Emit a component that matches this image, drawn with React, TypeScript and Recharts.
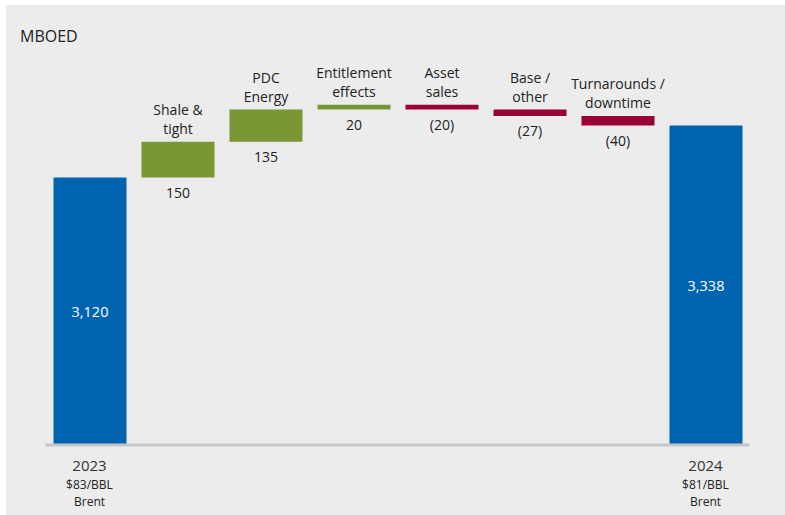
import React from 'react';
import { BarChart, Bar, XAxis, YAxis, Cell, LabelList } from 'recharts';

const unitLabel = 'MBOED';
const categories = ['2023', 'Shale & tight', 'PDC Energy', 'Entitlement effects', 'Asset sales', 'Base / other', 'Turnarounds / downtime', '2024'];
const topLabelLines: string[][] = [[], ['Shale &', 'tight'], ['PDC', 'Energy'], ['Entitlement', 'effects'], ['Asset', 'sales'], ['Base /', 'other'], ['Turnarounds /', 'downtime'], []];
const startTotal = 3120;
const endTotal = 3338;
const changes = [150, 135, 20, -20, -27, -40];
const baseTickLines: string[][] = [['2023', '$83/BBL', 'Brent'], [], [], [], [], [], [], ['2024', '$81/BBL', 'Brent']];
const axisMin = 2000;
const axisMax = 3650;

const BLUE = '#0064B0';
const GREEN = '#7A9634';
const RED = '#9A0033';
const FONT = '"Open Sans", sans-serif';

type Row = { name: string; range: [number, number]; kind: 'total' | 'up' | 'down'; delta: number; total: number };

const rows: Row[] = [];
rows.push({ name: categories[0], range: [axisMin, startTotal], kind: 'total', delta: 0, total: startTotal });
let run = startTotal;
changes.forEach((c, i) => {
  const lo = Math.min(run, run + c);
  const hi = Math.max(run, run + c);
  rows.push({ name: categories[i + 1], range: [lo, hi], kind: c >= 0 ? 'up' : 'down', delta: c, total: 0 });
  run += c;
});
rows.push({ name: categories[7], range: [axisMin, endTotal], kind: 'total', delta: 0, total: endTotal });

const fmt = (v: number) => v.toLocaleString('en-US');
const fmtDelta = (v: number) => (v < 0 ? `(${Math.abs(v)})` : `${v}`);

const renderLabel = (props: any) => {
  const { x, y, width, height, index } = props;
  const row = rows[index];
  if (!row) return null;
  const top = Math.min(y, y + height);
  const bottom = Math.max(y, y + height);
  const cx = x + width / 2;
  if (row.kind === 'total') {
    return (
      <text x={cx} y={(top + bottom) / 2} textAnchor="middle" dominantBaseline="central" fill="#ffffff" fontSize={14.5} fontFamily={FONT}>
        {fmt(row.total)}
      </text>
    );
  }
  const lines = topLabelLines[index];
  return (
    <g>
      {lines.map((l, i) => (
        <text key={i} x={cx} y={top - 13 - (lines.length - 1 - i) * 19} textAnchor="middle" dominantBaseline="central" fill="#222" fontSize={14} fontFamily={FONT}>
          {l}
        </text>
      ))}
      <text x={cx} y={bottom + 15} textAnchor="middle" dominantBaseline="central" fill="#222" fontSize={14} fontFamily={FONT}>
        {fmtDelta(row.delta)}
      </text>
    </g>
  );
};

const renderTick = (props: any) => {
  const { x, y, payload } = props;
  const lines = baseTickLines[payload.index] || [];
  if (!lines.length) return <g />;
  return (
    <g>
      <text x={x} y={y + 20} textAnchor="middle" dominantBaseline="central" fill="#333" fontSize={15} fontFamily={FONT}>{lines[0]}</text>
      <text x={x} y={y + 39} textAnchor="middle" dominantBaseline="central" fill="#222" fontSize={12} fontFamily={FONT}>{lines[1]}</text>
      <text x={x} y={y + 56} textAnchor="middle" dominantBaseline="central" fill="#222" fontSize={12} fontFamily={FONT}>{lines[2]}</text>
    </g>
  );
};

export default function App() {
  return (
    <div style={{ position: 'absolute', left: 0, top: 0, width: 785, height: 515, background: '#ffffff' }}>
      <div style={{ position: 'absolute', left: 6, top: 5, width: 779, height: 510, background: '#ececec' }} />
      <div style={{ position: 'absolute', left: 20, top: 26, fontFamily: FONT, fontSize: 16, color: '#222', lineHeight: '20px' }}>{unitLabel}</div>
      <div style={{ position: 'absolute', left: 0, top: 0 }}>
        <BarChart width={785} height={515} data={rows} margin={{ top: 51, right: 35.5, bottom: 0, left: 45.5 }}>
          <XAxis
            dataKey="name"
            height={70}
            interval={0}
            tickLine={false}
            tickSize={0}
            tickMargin={0}
            axisLine={{ stroke: '#c6c6c6', strokeWidth: 3 }}
            tick={renderTick}
          />
          <YAxis hide domain={[axisMin, axisMax]} allowDataOverflow type="number" />
          <Bar dataKey="range" barSize={73} isAnimationActive={false}>
            {rows.map((r, i) => (
              <Cell key={i} fill={r.kind === 'total' ? BLUE : r.kind === 'up' ? GREEN : RED} />
            ))}
            <LabelList dataKey="range" content={renderLabel} />
          </Bar>
        </BarChart>
      </div>
    </div>
  );
}
